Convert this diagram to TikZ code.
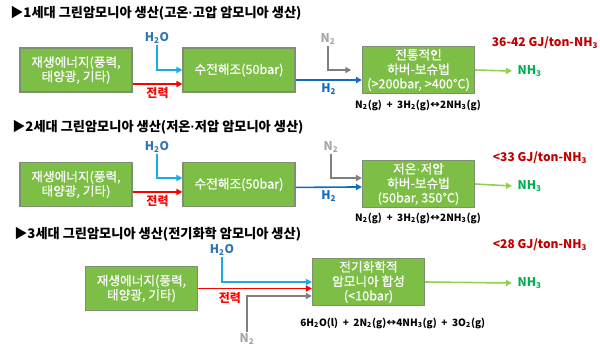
\documentclass[tikz,border=0pt]{standalone}
\usepackage{fontspec}
\setmainfont{Noto Sans CJK KR}
\newfontfamily\boxfont{Noto Sans CJK KR}[FakeBold=0.5]
\newfontfamily\dotfont{Liberation Sans}
\usetikzlibrary{arrows.meta,positioning,calc}
\definecolor{BoxGreen}{HTML}{7DBE46}
\definecolor{BoxBorder}{HTML}{7F8F73}
\definecolor{WaterBlue}{HTML}{1AAAE8}
\definecolor{WaterText}{HTML}{2E75B6}
\definecolor{HydroBlue}{HTML}{0F6CC0}
\definecolor{PowerRed}{HTML}{FF0000}
\definecolor{NitroGray}{HTML}{7F7F7F}
\definecolor{NitroText}{HTML}{A6A6A6}
\definecolor{OutGreen}{HTML}{92D050}
\definecolor{AmmoGreen}{HTML}{00B050}
\definecolor{EnergyRed}{HTML}{C00000}
\newcommand{\mdot}{{\dotfont ·}}

\begin{document}
\begin{tikzpicture}[
    x=0.75pt, y=-0.75pt,
    procbox/.style={draw=BoxBorder, fill=BoxGreen, line width=0.8pt, text=white, align=center, minimum width=84pt, minimum height=33pt, inner sep=2pt, font=\boxfont\fontsize{9.5}{10.8}\selectfont},
    titletext/.style={anchor=west, font=\fontsize{9.9}{11}\selectfont\bfseries, inner sep=0pt},
    gaslabel/.style={font=\fontsize{9}{10}\selectfont\bfseries, inner sep=1pt},
    energytext/.style={font=\fontsize{9}{10}\selectfont\bfseries, text=EnergyRed, inner sep=0pt},
    eqtext/.style={font=\fontsize{7.5}{9}\selectfont\bfseries, inner sep=0pt},
    flow/.style={line width=1.2pt, -{Triangle[length=4.5pt,width=4.5pt]}}
]

  \useasboundingbox (0,0) rectangle (600,351);

  % =========================================================================
  % 1. 1세대 (고온·고압)
  % =========================================================================
  \node[titletext] (t1) at (10,13) {▶1세대 그린암모니아 생산(고온\mdot 고압 암모니아 생산)};

  \node[procbox] (src1) at (76,70) {재생에너지(풍력,\\태양광, 기타)};
  \node[procbox] (elec1) at (239,70) {수전해조(50bar)};
  \node[procbox] (hb1) at (418.5,70) {전통적인\\하버-보슈법\\(>200bar, >400℃)};

  \node[gaslabel, text=WaterText] (w1) at (157,38) {H\textsubscript{2}O};
  \node[gaslabel, text=NitroText] (n1) at (328,39) {N\textsubscript{2}};
  \node[gaslabel, text=AmmoGreen, anchor=west] (p1) at (516,71) {NH\textsubscript{3}};
  \node[energytext] (e1) at (545,43) {36-42 GJ/ton-NH\textsubscript{3}};
  \node[eqtext] (q1) at (418,105) {N\textsubscript{2}(g)\ \ +\ \ 3H\textsubscript{2}(g)↔2NH\textsubscript{3}(g)};

  \draw[flow, WaterBlue] (w1.south) |- (elec1.west);
  \draw[flow, PowerRed] ([yshift=-10.5pt]src1.east) -- ([yshift=-10.5pt]elec1.west)
    node[midway, below=1pt, gaslabel, text=PowerRed] {전력};
  \draw[flow, HydroBlue] ([yshift=-7.5pt]elec1.east) -- ([yshift=-7.5pt]hb1.west)
    node[midway, below=1pt, gaslabel, text=HydroBlue] {H\textsubscript{2}};
  \draw[flow, NitroGray] (n1.south) |- ([xshift=-8pt]hb1.west);
  \draw[flow, OutGreen] (hb1.east) -- ([xshift=-3pt]p1.west);

  % =========================================================================
  % 2. 2세대 (저온·저압)
  % =========================================================================
  \node[titletext] (t2) at (12,127) {▶2세대 그린암모니아 생산(저온\mdot 저압 암모니아 생산)};

  \node[procbox] (src2) at (76,184.5) {재생에너지(풍력,\\태양광, 기타)};
  \node[procbox] (elec2) at (239,184.5) {수전해조(50bar)};
  \node[procbox] (hb2) at (418.5,184) {저온\mdot 저압\\하버-보슈법\\(50bar, 350℃)};

  \node[gaslabel, text=WaterText] (w2) at (157,147) {H\textsubscript{2}O};
  \node[gaslabel, text=NitroText] (n2) at (331,147) {N\textsubscript{2}};
  \node[gaslabel, text=AmmoGreen, anchor=west] (p2) at (516,186) {NH\textsubscript{3}};
  \node[energytext] (e2) at (540,158) {<33 GJ/ton-NH\textsubscript{3}};
  \node[eqtext] (q2) at (418,218) {N\textsubscript{2}(g)\ \ +\ \ 3H\textsubscript{2}(g)↔2NH\textsubscript{3}(g)};

  \draw[flow, WaterBlue] (w2.south) |- ([yshift=4.9pt]elec2.west);
  \draw[flow, PowerRed] ([yshift=-5.6pt]src2.east) -- ([yshift=-5.6pt]elec2.west)
    node[midway, below=1pt, gaslabel, text=PowerRed] {전력};
  \draw[flow, HydroBlue] ([yshift=-2.2pt]elec2.east) -- ([yshift=-2.2pt]hb2.west)
    node[midway, below=1pt, gaslabel, text=HydroBlue] {H\textsubscript{2}};
  \draw[flow, NitroGray] (n2.south) |- ([yshift=4.5pt]hb2.west);
  \draw[flow, OutGreen] (hb2.east) -- ([xshift=-3pt]p2.west);

  % =========================================================================
  % 3. 3세대 (전기화학)
  % =========================================================================
  \node[titletext] (t3) at (14,234) {▶3세대 그린암모니아 생산(전기화학 암모니아 생산)};

  \node[procbox] (src3) at (141.5,288.5) {재생에너지(풍력,\\태양광, 기타)};
  \node[procbox] (ec3) at (368.5,282) {전기화학적\\암모니아 합성\\(<10bar)};

  \node[gaslabel, text=WaterText] (w3) at (222,250) {H\textsubscript{2}O};
  \node[gaslabel, text=NitroText] (n3) at (247,339) {N\textsubscript{2}};
  \node[gaslabel, text=AmmoGreen, anchor=west] (p3) at (516,283) {NH\textsubscript{3}};
  \node[energytext] (e3) at (540,245) {<28 GJ/ton-NH\textsubscript{3}};
  \node[eqtext, anchor=west] (q3) at (300,323) {6H\textsubscript{2}O(l)\ \ +\ \ 2N\textsubscript{2}(g)↔4NH\textsubscript{3}(g)\ \ +\ \ 3O\textsubscript{2}(g)};

  \draw[flow, WaterBlue] (w3.south) |- (ec3.west);
  \draw[flow, PowerRed] (src3.east) -- (src3.east -| ec3.west)
    node[pos=0.28, below=1pt, gaslabel, text=PowerRed] {전력};
  \draw[flow, NitroGray] (n3.north) |- ([yshift=-10.5pt]ec3.west);
  \draw[flow, OutGreen] (ec3.east) -- ([xshift=-3pt]p3.west);

\end{tikzpicture}
\end{document}
